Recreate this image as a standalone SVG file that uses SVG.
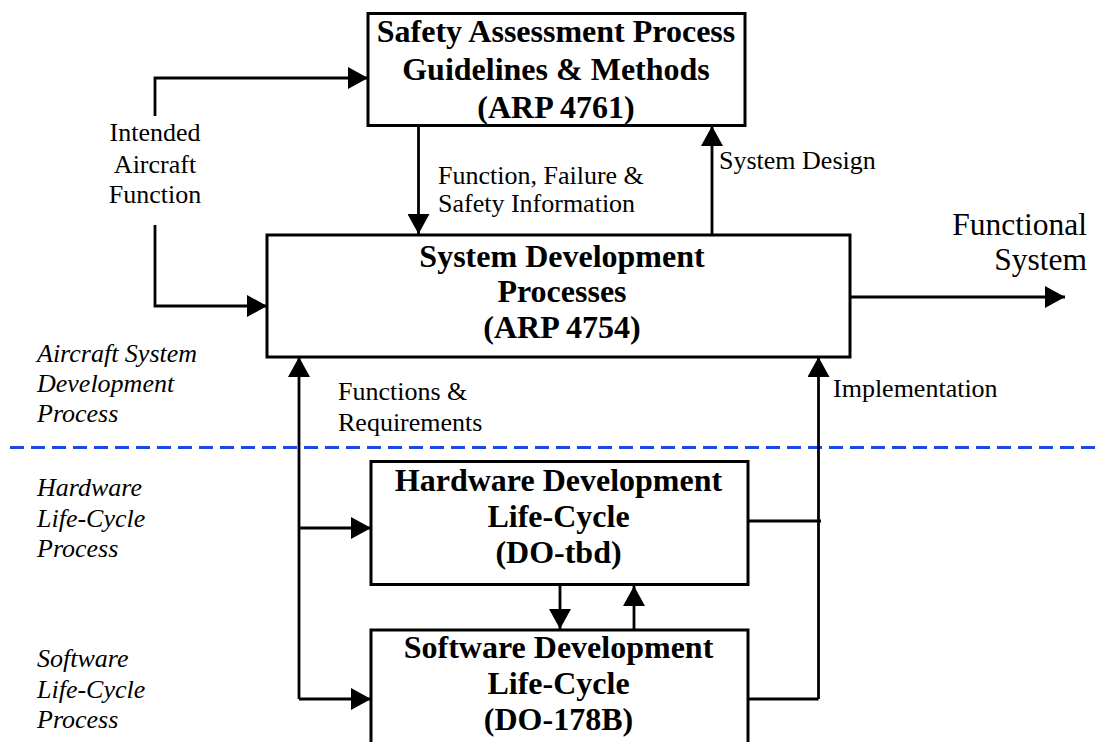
<svg xmlns="http://www.w3.org/2000/svg" width="1098" height="742" viewBox="0 0 1098 742">
  <style>
    .box { fill: #fff; stroke: #000; stroke-width: 3; }
    .title { font-family: "Liberation Serif", "Times New Roman", serif; font-weight: bold; font-size: 32px; text-anchor: middle; fill: #000; }
    .lbl { font-family: "Liberation Serif", "Times New Roman", serif; font-size: 26px; fill: #000; }
    .lane { font-family: "Liberation Serif", "Times New Roman", serif; font-style: italic; font-size: 26px; fill: #000; }
    .out { font-family: "Liberation Serif", "Times New Roman", serif; font-size: 31.5px; fill: #000; text-anchor: end; }
    .wire { fill: none; stroke: #000; stroke-width: 2.8; }
    .arrow { fill: none; stroke: #000; stroke-width: 2.8; marker-end: url(#head); }
    .divider { stroke: #1d48e6; stroke-width: 3; stroke-dasharray: 14 7; }
  </style>
  <defs>
    <marker id="head" markerUnits="userSpaceOnUse" markerWidth="22" markerHeight="22" refX="20" refY="11" orient="auto">
      <path d="M0,0 L20,11 L0,22 Z" fill="#000"/>
    </marker>
  </defs>

  <rect width="1098" height="742" fill="#fff"/>

  <!-- lane separator -->
  <line class="divider" x1="10" y1="447.5" x2="1098" y2="447.5"/>

  <!-- lane captions -->
  <g id="lane-captions">
    <text class="lane" x="37" y="362">Aircraft System</text>
    <text class="lane" x="37" y="392">Development</text>
    <text class="lane" x="37" y="422">Process</text>
    <text class="lane" x="37" y="496">Hardware</text>
    <text class="lane" x="37" y="527">Life-Cycle</text>
    <text class="lane" x="37" y="557">Process</text>
    <text class="lane" x="37" y="667">Software</text>
    <text class="lane" x="37" y="698">Life-Cycle</text>
    <text class="lane" x="37" y="728">Process</text>
  </g>

  <!-- connectors -->
  <g id="connectors">
    <!-- intended aircraft function -->
    <path class="arrow" d="M155,116 V78 H368"/>
    <path class="arrow" d="M155,225 V306 H267"/>
    <!-- safety assessment <-> system development -->
    <path class="arrow" d="M418.5,126 V234"/>
    <path class="arrow" d="M712,238 V126"/>
    <!-- functional system output -->
    <path class="arrow" d="M850,297 H1065"/>
    <!-- functions & requirements -->
    <path class="arrow" d="M299,699 V357"/>
    <path class="arrow" d="M299,528 H371"/>
    <path class="arrow" d="M299,699 H371"/>
    <!-- implementation -->
    <path class="arrow" d="M818.5,699 V357"/>
    <path class="wire" d="M748,521 H821"/>
    <path class="wire" d="M748,699 H818.5"/>
    <!-- hardware <-> software -->
    <path class="arrow" d="M560,585 V629"/>
    <path class="arrow" d="M634,630 V586"/>
  </g>

  <!-- connector labels -->
  <g id="connector-labels">
    <text class="lbl" x="155" y="141" text-anchor="middle">Intended</text>
    <text class="lbl" x="155" y="173" text-anchor="middle">Aircraft</text>
    <text class="lbl" x="155" y="203" text-anchor="middle">Function</text>
    <text class="lbl" x="438" y="184">Function, Failure &amp;</text>
    <text class="lbl" x="438" y="212">Safety Information</text>
    <text class="lbl" x="719" y="169">System Design</text>
    <text class="out" x="1087" y="235">Functional</text>
    <text class="out" x="1087" y="270">System</text>
    <text class="lbl" x="338" y="400">Functions &amp;</text>
    <text class="lbl" x="338" y="431">Requirements</text>
    <text class="lbl" x="833" y="397">Implementation</text>
  </g>

  <!-- nodes -->
  <g id="safety-assessment">
    <rect class="box" x="368" y="13.5" width="377" height="112"/>
    <text class="title" x="556" y="42">Safety Assessment Process</text>
    <text class="title" x="556" y="80">Guidelines &amp; Methods</text>
    <text class="title" x="556" y="118">(ARP 4761)</text>
  </g>

  <g id="system-development">
    <rect class="box" x="267" y="235" width="583" height="122"/>
    <text class="title" x="562" y="267">System Development</text>
    <text class="title" x="562" y="302">Processes</text>
    <text class="title" x="562" y="338">(ARP 4754)</text>
  </g>

  <g id="hardware-lifecycle">
    <rect class="box" x="371" y="461.5" width="377" height="123"/>
    <text class="title" x="558.5" y="491">Hardware Development</text>
    <text class="title" x="558.5" y="527">Life-Cycle</text>
    <text class="title" x="558.5" y="563">(DO-tbd)</text>
  </g>

  <g id="software-lifecycle">
    <rect class="box" x="371" y="630" width="377" height="130"/>
    <text class="title" x="558.5" y="658">Software Development</text>
    <text class="title" x="558.5" y="694">Life-Cycle</text>
    <text class="title" x="558.5" y="730">(DO-178B)</text>
  </g>
</svg>
